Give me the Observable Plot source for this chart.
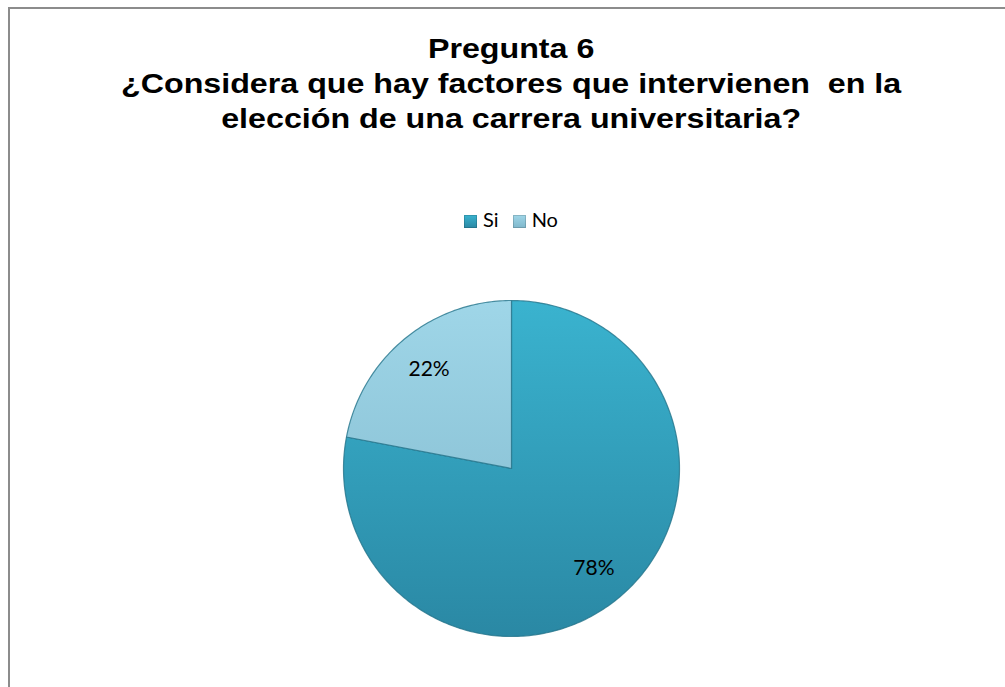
<!DOCTYPE html>
<html>
<head>
<meta charset="utf-8">
<script src="https://cdn.jsdelivr.net/npm/d3@7"></script>
<script src="https://cdn.jsdelivr.net/npm/@observablehq/plot@0.6"></script>
<style>
  html, body { margin: 0; padding: 0; background: #fff; }
  #page { position: relative; width: 1005px; height: 687px; overflow: hidden; background: #fff; }
  #frame { position: absolute; left: 8px; top: 7px; width: 1100px; height: 800px; border: 2px solid #8c8c8c; box-sizing: border-box; }
  #title { position: absolute; left: 0; width: 1022px; top: 31px; text-align: center; font-family: "Liberation Sans", Arial, sans-serif; font-weight: bold; font-size: 28px; line-height: 35px; color: #000; transform: scaleX(1.15); transform-origin: 510px 0; }
  #legend { position: absolute; left: 0; width: 1022px; top: 207px; text-align: center; font-family: "Lato", "Open Sans", sans-serif; font-size: 20px; color: #000; }
  #legend span.item { display: inline-block; margin: 0 7px; }
  #legend span.sw { display: inline-block; width: 13px; height: 13px; margin-right: 6px; vertical-align: -1px; box-shadow: inset 0 0 0 1px rgba(0,0,0,0.15); }
  #chart { position: absolute; left: 0; top: 290px; }
</style>
</head>
<body>
<div id="page">
  <div id="frame"></div>
  <div id="title"></div>
  <div id="legend"></div>
  <div id="chart"></div>
</div>
<script>
const titleLines = ["Pregunta 6", "¿Considera que hay factores que intervienen\u00a0 en la", "elección de una carrera universitaria?"];
const categories = ["Si", "No"];
const values = [78, 22];
const labels = ["78%", "22%"];
const colorsTop = ["#3ab3cf", "#9fd6e8"];
const colorsBottom = ["#2a88a4", "#7fb7cb"];

document.getElementById("title").innerHTML = titleLines.join("<br>");
document.getElementById("legend").innerHTML = categories.map((c, i) =>
  `<span class="item"><span class="sw" style="background:linear-gradient(${colorsTop[i]}, ${colorsBottom[i]})"></span>${c}</span>`
).join("");

// Build slices from the data (clockwise from 12 o'clock)
const total = d3.sum(values);
let acc = 0;
const slices = categories.map((c, i) => {
  const a0 = acc / total * 2 * Math.PI;
  acc += values[i];
  const a1 = acc / total * 2 * Math.PI;
  return {category: c, i, a0, a1, mid: (a0 + a1) / 2, label: labels[i]};
});
const polyPoints = [];
for (const s of slices) {
  polyPoints.push({category: s.category, x: 0, y: 0});
  const n = Math.max(2, Math.ceil((s.a1 - s.a0) / (Math.PI / 180)));
  for (let k = 0; k <= n; k++) {
    const a = s.a0 + (s.a1 - s.a0) * k / n;
    polyPoints.push({category: s.category, x: Math.sin(a), y: Math.cos(a)});
  }
  polyPoints.push({category: s.category, x: 0, y: 0});
}
const labelPts = slices.map(s => ({label: s.label, x: 0.77 * Math.sin(s.mid), y: 0.77 * Math.cos(s.mid)}));

const defs = () => {
  const ns = "http://www.w3.org/2000/svg";
  const d = document.createElementNS(ns, "defs");
  categories.forEach((c, i) => {
    const g = document.createElementNS(ns, "linearGradient");
    g.setAttribute("id", "grad" + i);
    g.setAttribute("gradientUnits", "userSpaceOnUse");
    g.setAttribute("x1", "0"); g.setAttribute("x2", "0");
    g.setAttribute("y1", "10"); g.setAttribute("y2", "346");
    [[0, colorsTop[i]], [1, colorsBottom[i]]].forEach(([o, col]) => {
      const st = document.createElementNS(ns, "stop");
      st.setAttribute("offset", o);
      st.setAttribute("stop-color", col);
      g.appendChild(st);
    });
    d.appendChild(g);
  });
  return d;
};

const plot = Plot.plot({
  width: 1005,
  height: 370,
  margin: 0,
  x: {domain: [-1, 1], range: [343, 679], axis: null},
  y: {domain: [-1, 1], range: [346, 10], axis: null},
  marks: [
    defs,
    ...slices.map(s => Plot.line(polyPoints.filter(p => p.category === s.category), {
      x: "x", y: "y", fill: `url(#grad${s.i})`, stroke: "#24748b", strokeWidth: 1.2, strokeOpacity: 0.8, curve: "linear-closed"
    })),
    Plot.text(labelPts, {x: "x", y: "y", text: "label", fontSize: 21, fill: "#000", fontFamily: "Lato, 'Open Sans', sans-serif"})
  ]
});
document.getElementById("chart").appendChild(plot);
</script>
</body>
</html>
